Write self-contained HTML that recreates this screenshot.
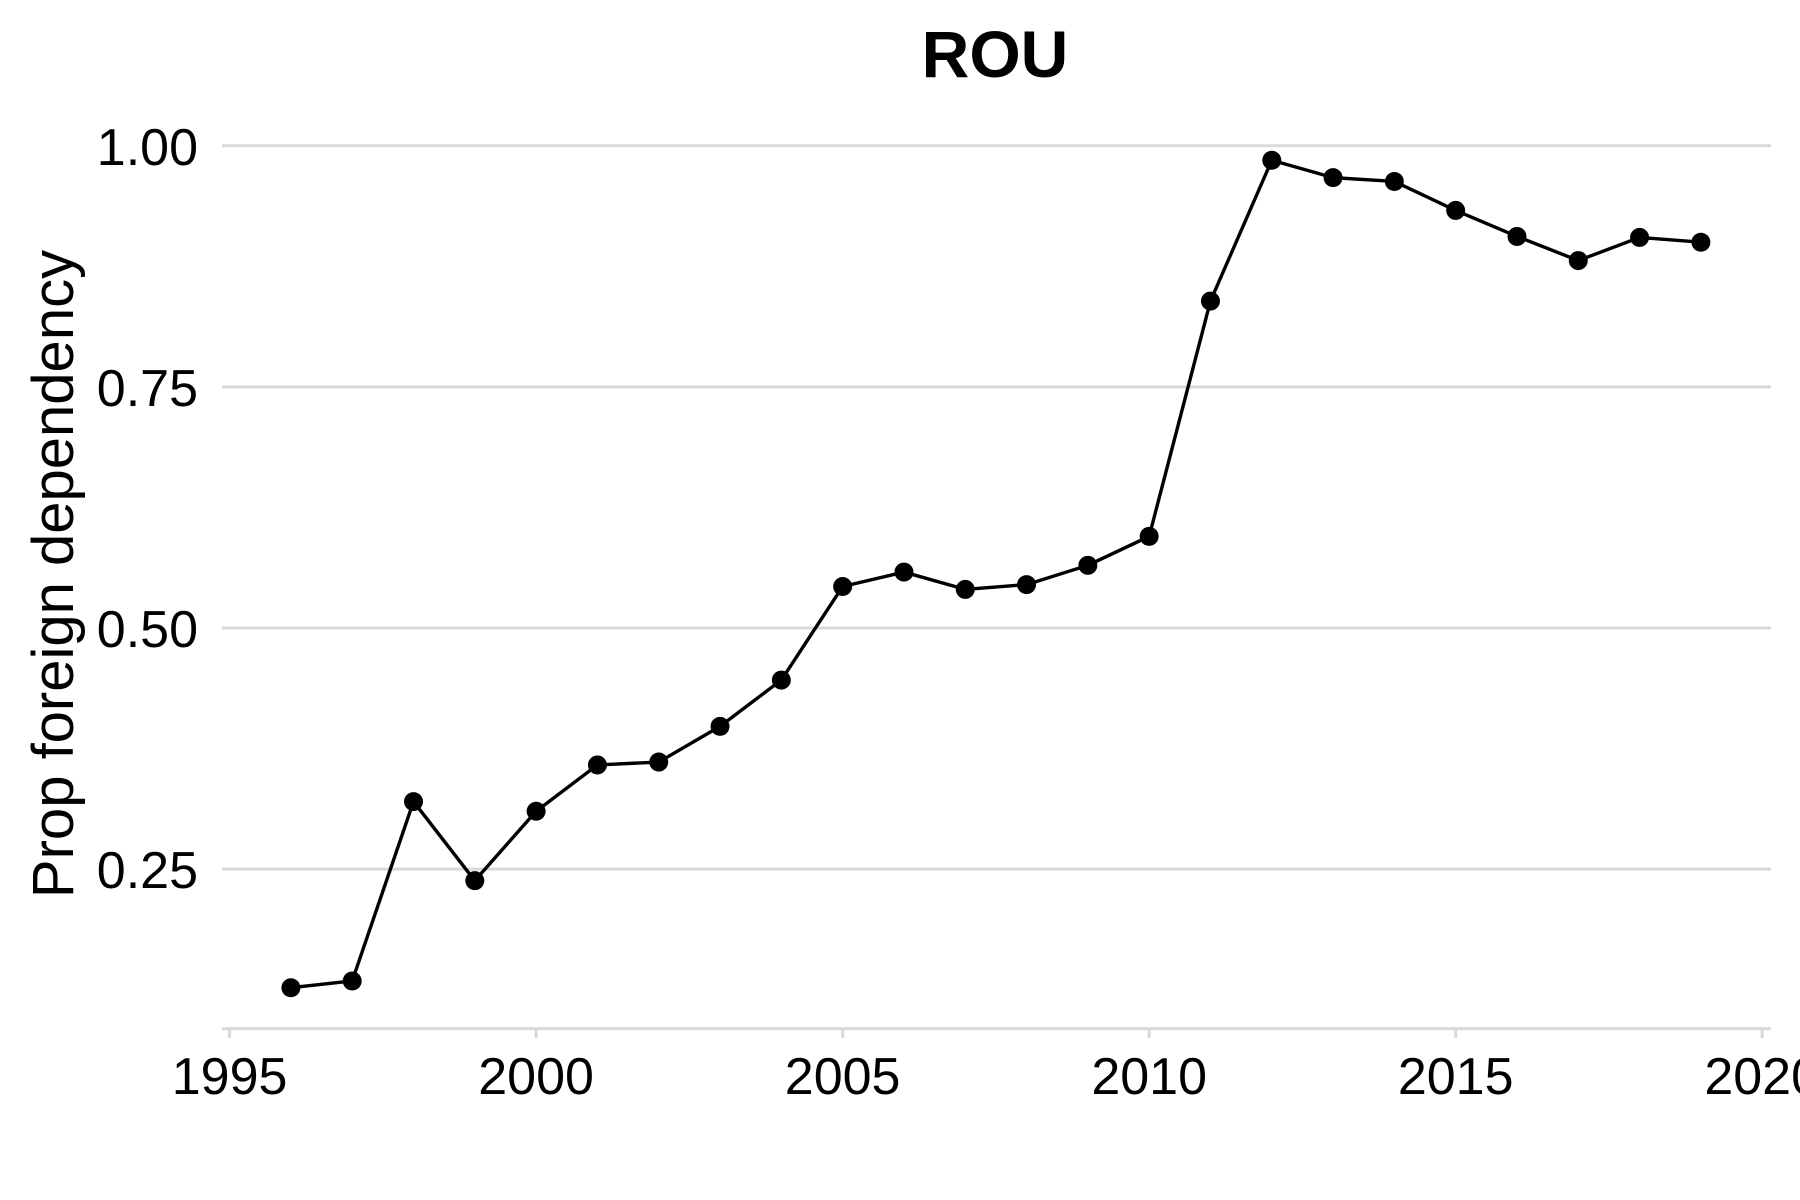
<!DOCTYPE html>
<html><head><meta charset="utf-8"><style>
html,body{margin:0;padding:0;background:#fff;}
svg{display:block;font-family:"Liberation Sans",sans-serif;}
</style></head><body>
<svg id="chart" width="1800" height="1200" viewBox="0 0 1800 1200">
<text x="995" y="77" text-anchor="middle" font-size="66" font-weight="bold" fill="#000">ROU</text>
<text transform="translate(73,574) rotate(-90)" text-anchor="middle" font-size="58" fill="#000">Prop foreign dependency</text>
<g id="grid"></g><g id="axes"></g><g id="series"></g>
</svg>
<script>
const years=[1996,1997,1998,1999,2000,2001,2002,2003,2004,2005,2006,2007,2008,2009,2010,2011,2012,2013,2014,2015,2016,2017,2018,2019];
const values=[0.127,0.134,0.320,0.238,0.310,0.358,0.361,0.398,0.446,0.543,0.558,0.540,0.545,0.565,0.595,0.839,0.985,0.967,0.963,0.933,0.906,0.881,0.905,0.900];
const yTicks=[0.25,0.5,0.75,1.0];
const yTickLabels=["0.25","0.50","0.75","1.00"];
const xTicks=[1995,2000,2005,2010,2015,2020];
const xTickLabels=["1995","2000","2005","2010","2015","2020"];
const NS="http://www.w3.org/2000/svg";
function xs(v){return 229.6+(v-1995)*(1762.2-229.6)/25;}
function ys(v){return 145.8+(1-v)*964.4;}
function mk(tag,attrs,parent){const e=document.createElementNS(NS,tag);for(const k in attrs)e.setAttribute(k,attrs[k]);parent.appendChild(e);return e;}
const grid=document.getElementById('grid'),axes=document.getElementById('axes'),series=document.getElementById('series');
yTicks.forEach((t,i)=>{
 const l=mk('line',{x1:222,x2:1771,y1:ys(t),y2:ys(t),stroke:'#d9d9d9','stroke-width':3},grid);
 
 
 const tx=mk('text',{x:198,y:ys(t)+19,'text-anchor':'end','font-size':52,fill:'#000'},axes);
 tx.textContent=yTickLabels[i];
 
 
});
const ax=mk('line',{x1:222,x2:1771,y1:1028.6,y2:1028.6,stroke:'#d9d9d9','stroke-width':3},axes);


xTicks.forEach((t,i)=>{
 const tk=mk('line',{x1:xs(t),x2:xs(t),y1:1028.6,y2:1038,stroke:'#d9d9d9','stroke-width':3},axes);
 
 
 const tx=mk('text',{x:xs(t),y:1094,'text-anchor':'middle','font-size':52,fill:'#000'},axes);
 tx.textContent=xTickLabels[i];
 
 
});
const pts=years.map((y,i)=>xs(y)+','+ys(values[i])).join(' ');
const pl=mk('polyline',{points:pts,fill:'none',stroke:'#000','stroke-width':3.4,'stroke-linejoin':'round'},series);


years.forEach((y,i)=>{
 const c=mk('circle',{cx:xs(y),cy:ys(values[i]),r:9.5,fill:'#000'},series);
 
 
});
</script>
</body></html>
